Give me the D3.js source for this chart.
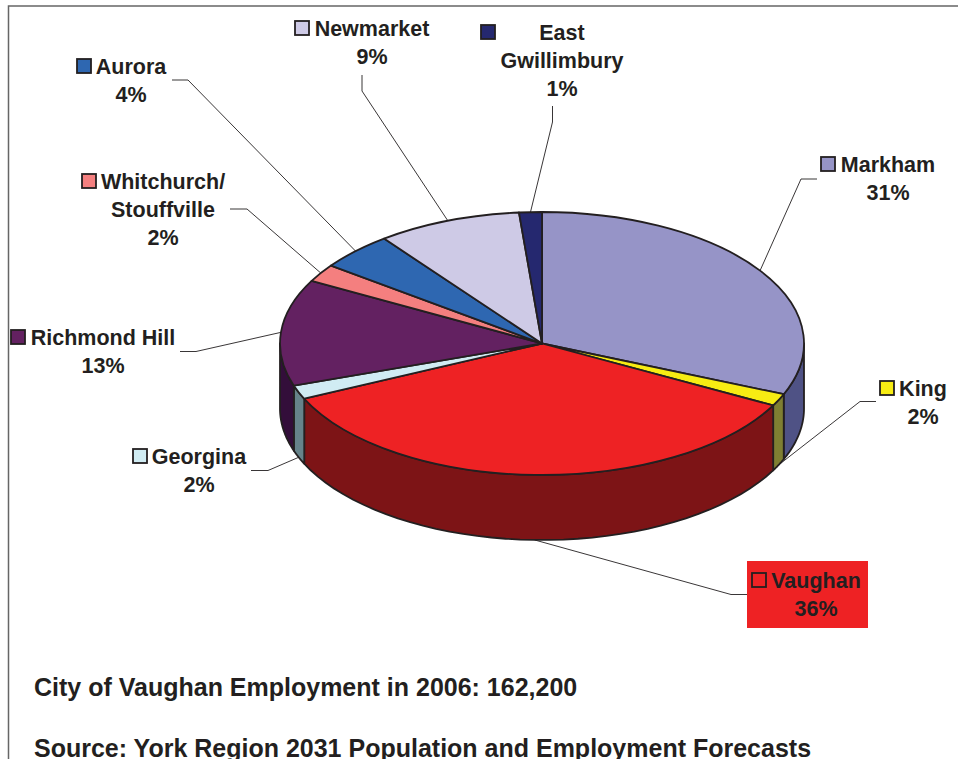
<!DOCTYPE html>
<html>
<head>
    <title>City of Vaughan Employment</title>
    <script src="https://d3js.org/d3.v7.min.js"></script>
    <style>
        body { margin: 0; background: #fff; }
        text { font-family: "Liberation Sans", Arial, sans-serif; font-weight: bold; fill: #231f20; }
    </style>
</head>
<body>
<script type="text/javascript">
    const w = 958;
    const h = 759;

    // Slice shares, printed labels are rounded
    const cities = ['Markham', 'King', 'Vaughan', 'Georgina', 'Richmond Hill', 'Whitchurch/ Stouffville', 'Aurora', 'Newmarket', 'East Gwillimbury'];
    const shares = [31.3, 1.5, 35.3, 1.7, 13.1, 2.2, 4.6, 8.9, 1.4];
    const shareLabels = ['31%', '2%', '36%', '2%', '13%', '2%', '4%', '9%', '1%'];
    const topColors = ['#9694c7', '#f7ec13', '#ee2224', '#d0ecf3', '#632161', '#f47f7f', '#2e67b1', '#cecae6', '#25286f'];
    const wallColors = ['#4f5285', '#7f7f32', '#7d1416', '#66838a', '#330e3a', '#7a3f3f', '#173359', '#676573', '#131438'];
    const notes = ['City of Vaughan Employment in 2006: 162,200', 'Source: York Region 2031 Population and Employment Forecasts'];

    // Label placement, same order as cities
    const labelLines = [['Markham'], ['King'], ['Vaughan'], ['Georgina'], ['Richmond Hill'], ['Whitchurch/', 'Stouffville'], ['Aurora'], ['Newmarket'], ['East', 'Gwillimbury']];
    const labelCenter = [888, 923, 816, 199, 103, 163, 131, 372, 562];
    const labelBase = [171.5, 395.5, 587.5, 463.5, 344.5, 188.5, 73.5, 35.5, 39.5];
    const keyX = [821, 880, 752, 133, 11, 82, 77, 295, 481];
    const leaderStart = [[817, 179], [876, 401.5], [747, 594.5], [251, 470.5], [180, 351.5], [230, 209], [172, 80], [362, 75], [552.5, 106]];
    const leaderElbow = [[801, 179], [860, 401.5], [731, 594.5], [268, 470.5], [196, 351.5], [247, 209], [188, 80], [362, 91], [552.5, 122]];

    const cx = 542;
    const cy = 343.5;
    const rx = 262;
    const ry = 131.5;
    const depth = 65;
    const ink = '#231f20';
    const lineHeight = 28;

    const svg = d3.select('body').append('svg').attr('width', w).attr('height', h).style('display', 'block');

    // Frame is open to the right and bottom of the picture
    svg.append('path')
        .attr('d', d3.line()([[8.5, h], [8.5, 6], [w, 6]]))
        .attr('fill', 'none')
        .attr('stroke', '#666')
        .attr('stroke-width', 1.5);

    const slices = d3.pie().sort(null).value(d => d)(shares);

    const onRim = (a, drop) => [cx + rx * Math.sin(a), cy - ry * Math.cos(a) + drop];

    // Walls, only the front half of the disc shows
    slices.forEach((s, i) => {
        const a0 = Math.max(s.startAngle, Math.PI / 2);
        const a1 = Math.min(s.endAngle, Math.PI * 3 / 2);
        if (a1 <= a0) return;
        const steps = d3.range(0, 41).map(k => a0 + (a1 - a0) * k / 40);
        const pts = steps.map(a => onRim(a, 0)).concat(steps.slice().reverse().map(a => onRim(a, depth)));
        svg.append('path')
            .attr('d', d3.line()(pts) + 'Z')
            .attr('fill', wallColors[i])
            .attr('stroke', ink)
            .attr('stroke-width', 1.8)
            .attr('stroke-linejoin', 'round');
    });

    // Top face, a flat d3 pie squashed to an ellipse
    const arc = d3.arc().innerRadius(0).outerRadius(rx);
    svg.append('g')
        .attr('transform', `translate(${cx},${cy}) scale(1,${ry / rx})`)
        .selectAll('path')
        .data(slices)
        .enter()
        .append('path')
        .attr('d', arc)
        .attr('fill', (d, i) => topColors[i])
        .attr('stroke', ink)
        .attr('stroke-width', 1.8)
        .attr('stroke-linejoin', 'round')
        .attr('vector-effect', 'non-scaling-stroke');

    // Vaughan label sits on a red box
    svg.append('rect')
        .attr('x', 747)
        .attr('y', 561)
        .attr('width', 121)
        .attr('height', 67)
        .attr('fill', topColors[2]);

    // Leader lines end at the middle of each slice on the rim
    slices.forEach((s, i) => {
        const mid = (s.startAngle + s.endAngle) / 2;
        const front = mid > Math.PI / 2 && mid < Math.PI * 3 / 2;
        svg.append('path')
            .attr('d', d3.line()([leaderStart[i], leaderElbow[i], onRim(mid, front ? depth : 0)]))
            .attr('fill', 'none')
            .attr('stroke', ink)
            .attr('stroke-width', 0.9);
    });

    cities.forEach((c, i) => {
        const lines = labelLines[i].concat(shareLabels[i]);
        lines.forEach((t, j) => {
            svg.append('text')
                .attr('x', labelCenter[i])
                .attr('y', labelBase[i] + j * lineHeight)
                .attr('text-anchor', 'middle')
                .attr('font-size', '21.5px')
                .text(t);
        });
        svg.append('rect')
            .attr('x', keyX[i])
            .attr('y', Math.floor(labelBase[i]) - 14)
            .attr('width', 14)
            .attr('height', 14)
            .attr('fill', topColors[i])
            .attr('stroke', ink)
            .attr('stroke-width', 1.8);
    });

    svg.selectAll('text.note')
        .data(notes)
        .enter()
        .append('text')
        .attr('class', 'note')
        .attr('x', 34)
        .attr('y', (d, i) => 696 + i * 61)
        .attr('font-size', '25px')
        .text(d => d);
</script>
</body>
</html>
